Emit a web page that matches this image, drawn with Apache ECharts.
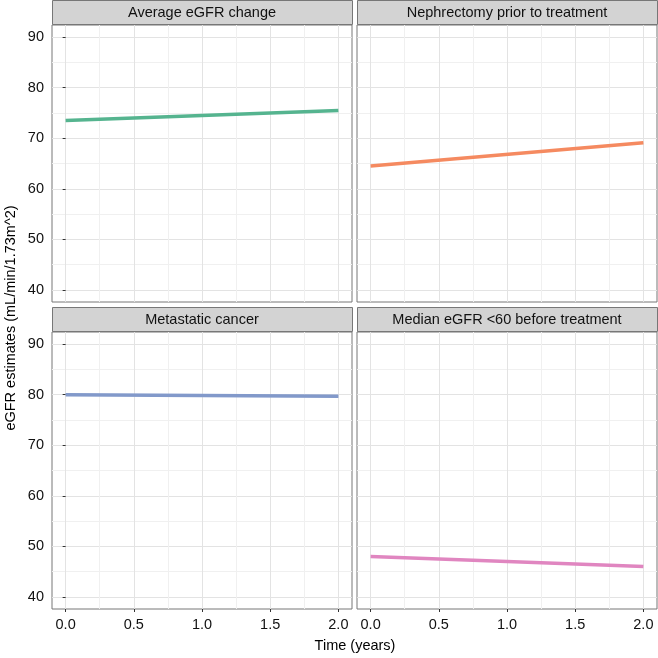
<!DOCTYPE html>
<html><head><meta charset="utf-8">
<script src="https://cdn.jsdelivr.net/npm/echarts@6/dist/echarts.min.js"></script>
<style>html,body{margin:0;padding:0;background:#fff}#c{width:658px;height:658px}</style>
</head><body><div id="c"></div>
<script>
const panelTitles = ['Average eGFR change', 'Nephrectomy prior to treatment', 'Metastatic cancer', 'Median eGFR <60 before treatment'];
const timeYears = [0, 2];
const avgChange = [73.5, 75.5];
const nephrectomy = [64.5, 69.1];
const metastatic = [80.0, 79.7];
const medianBelow60 = [48.0, 46.0];
const seriesValues = [avgChange, nephrectomy, metastatic, medianBelow60];
const xTicks = [0, 0.5, 1, 1.5, 2];
const xMinor = [0.25, 0.75, 1.25, 1.75];
const yTicks = [40, 50, 60, 70, 80, 90];
const yMinor = [45, 55, 65, 75, 85];

const colors = ['#55B48F', '#F58A60', '#8299CA', '#E086C0'];
const FONT = '"Liberation Sans", Arial, Helvetica, sans-serif';
const panels = [
  {left: 52, top: 25, width: 300},
  {left: 357, top: 25, width: 300},
  {left: 52, top: 332, width: 300},
  {left: 357, top: 332, width: 300}
];
const PH = 277, STRIP = 25;
const XMIN = -0.1, XMAX = 2.1, YMIN = 37.6, YMAX = 92.4;

const grid = [], xAxis = [], yAxis = [], series = [], graphic = [];
panels.forEach((p, i) => {
  const bottomRow = i >= 2, leftCol = i % 2 === 0;
  grid.push({left: p.left, top: p.top, width: p.width, height: PH, show: true,
    borderColor: '#777', borderWidth: 1, backgroundColor: '#fff', containLabel: false});
  xAxis.push({type: 'value', gridIndex: i, min: XMIN, max: XMAX,
    axisLine: {show: false},
    axisTick: {show: bottomRow, length: 3, customValues: xTicks, lineStyle: {color: '#333', width: 1}},
    axisLabel: {show: bottomRow, customValues: xTicks, margin: 8, color: '#111', fontSize: 14.5, fontFamily: FONT,
      formatter: v => v.toFixed(1)},
    splitLine: {show: true, lineStyle: {color: '#e3e3e3', width: 1}}
  });
  xAxis.push({type: 'value', gridIndex: i, min: XMIN, max: XMAX,
    axisLine: {show: false},
    axisTick: {show: false, customValues: xMinor},
    axisLabel: {show: false, customValues: xMinor},
    splitLine: {show: true, lineStyle: {color: '#f0f0f0', width: 1}}
  });
  yAxis.push({type: 'value', gridIndex: i, min: YMIN, max: YMAX,
    axisLine: {show: false},
    axisTick: {show: leftCol, length: 3, customValues: yTicks, lineStyle: {color: '#333', width: 1}},
    axisLabel: {show: leftCol, customValues: yTicks, margin: 8, color: '#111', fontSize: 14.5, fontFamily: FONT},
    splitLine: {show: true, lineStyle: {color: '#e3e3e3', width: 1}}
  });
  yAxis.push({type: 'value', gridIndex: i, min: YMIN, max: YMAX,
    axisLine: {show: false},
    axisTick: {show: false, customValues: yMinor},
    axisLabel: {show: false, customValues: yMinor},
    splitLine: {show: true, lineStyle: {color: '#f0f0f0', width: 1}}
  });
  series.push({type: 'line', xAxisIndex: 2 * i, yAxisIndex: 2 * i, symbol: 'none', silent: true,
    data: timeYears.map((t, k) => [t, seriesValues[i][k]]),
    lineStyle: {color: colors[i], width: 3.5}, z: 5});
  graphic.push({type: 'rect', shape: {x: p.left + 0.5, y: p.top - STRIP + 0.5, width: p.width, height: STRIP - 1},
    style: {fill: '#d3d3d3', stroke: '#777', lineWidth: 1}, z: 10});
  graphic.push({type: 'text', x: p.left + p.width / 2, y: p.top - STRIP / 2 + 0.5,
    style: {text: panelTitles[i], align: 'center', verticalAlign: 'middle', fontSize: 14.5, fontFamily: FONT, fill: '#111'}, z: 11});
});
graphic.push({type: 'text', x: 355, y: 646,
  style: {text: 'Time (years)', align: 'center', verticalAlign: 'middle', fontSize: 14.5, fontFamily: FONT, fill: '#000'}});
graphic.push({type: 'text', x: 11, y: 318, rotation: Math.PI / 2,
  style: {text: 'eGFR estimates (mL/min/1.73m^2)', align: 'center', verticalAlign: 'middle', fontSize: 14.5, fontFamily: FONT, fill: '#000'}});

const chart = echarts.init(document.getElementById('c'), null, {renderer: 'canvas'});
chart.setOption({animation: false, backgroundColor: '#fff', grid, xAxis, yAxis, series, graphic});
</script></body></html>
